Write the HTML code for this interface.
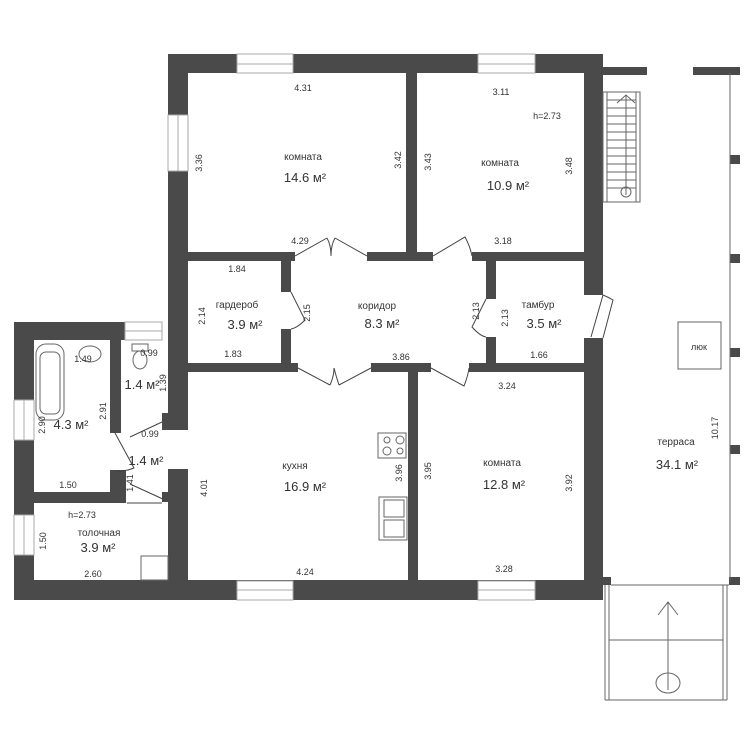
<!DOCTYPE html>
<html><head><meta charset="utf-8"><style>
html,body{margin:0;padding:0;background:#fff;}
svg{display:block;}
text{font-family:"Liberation Sans",sans-serif;fill:#333;}
.s{font-size:9px;}
.l{font-size:10px;}
.a{font-size:13px;}
</style></head><body>
<svg width="750" height="750" viewBox="0 0 750 750" xmlns="http://www.w3.org/2000/svg">
<g fill="#4a4a4a">
<rect x="168" y="54" width="435" height="19"/>
<rect x="168" y="54" width="20" height="376"/>
<rect x="168" y="469" width="20" height="131"/>
<rect x="584" y="54" width="19" height="241"/>
<rect x="584" y="338" width="19" height="247"/>
<rect x="14" y="580" width="589" height="20"/>
<rect x="406" y="73" width="11" height="188"/>
<rect x="188" y="252" width="107" height="9"/>
<rect x="367" y="252" width="66" height="9"/>
<rect x="472" y="252" width="112" height="9"/>
<rect x="281" y="261" width="10" height="31"/>
<rect x="281" y="329" width="10" height="43"/>
<rect x="486" y="261" width="10" height="38"/>
<rect x="486" y="337" width="10" height="35"/>
<rect x="188" y="363" width="110" height="9"/>
<rect x="371" y="363" width="60" height="9"/>
<rect x="469" y="363" width="115" height="9"/>
<rect x="408" y="372" width="10" height="208"/>
<rect x="14" y="322" width="20" height="278"/>
<rect x="14" y="322" width="111" height="18"/>
<rect x="110" y="340" width="11" height="93"/>
<rect x="110" y="470" width="16" height="33"/>
<rect x="33" y="492" width="93" height="11"/>
<rect x="162" y="413" width="6" height="17"/>
<rect x="162" y="492" width="6" height="10"/>
<rect x="603" y="67" width="44" height="8"/>
<rect x="693" y="67" width="47" height="8"/>
<rect x="730" y="155" width="10" height="9"/>
<rect x="730" y="254" width="10" height="9"/>
<rect x="730" y="348" width="10" height="9"/>
<rect x="730" y="445" width="10" height="9"/>
<rect x="603" y="577" width="8" height="8"/>
<rect x="729" y="577" width="11" height="8"/>
</g>
<g fill="#fff" stroke="#aaa" stroke-width="1">
<rect x="237" y="54" width="56" height="19"/>
<rect x="478" y="54" width="57" height="19"/>
<rect x="168" y="115" width="20" height="56"/>
<rect x="237" y="581" width="56" height="19"/>
<rect x="478" y="581" width="57" height="19"/>
<rect x="14" y="400" width="20" height="40"/>
<rect x="14" y="515" width="20" height="40"/>
<rect x="125" y="322" width="37" height="18"/>
</g>
<g stroke="#aaa" stroke-width="1">
<line x1="237" y1="64" x2="293" y2="64"/><line x1="478" y1="64" x2="535" y2="64"/>
<line x1="178" y1="115" x2="178" y2="171"/><line x1="237" y1="590" x2="293" y2="590"/>
<line x1="478" y1="590" x2="535" y2="590"/><line x1="24" y1="400" x2="24" y2="440"/>
<line x1="24" y1="515" x2="24" y2="555"/><line x1="125" y1="331" x2="162" y2="331"/>
</g>
<g fill="none" stroke="#444" stroke-width="1">
<path d="M295 256 L327 238 M367 256 L335 238 M327 238 Q331 245 331 256 M335 238 Q331 245 331 256"/>
<path d="M433 256 L465 237 Q470 246 472 256"/>
<path d="M291 292 L305 320 Q297 328 291 329"/>
<path d="M486 299 L472 327 Q480 336 486 337"/>
<path d="M298 368 L330 385 M371 368 L339 385 M330 385 Q334 376 334 368 M339 385 Q336 376 334 368"/>
<path d="M431 368 L464 386 Q468 376 469 368"/>
<path d="M603 295 L591 337 M603 295 Q608 297 613 300 L603 338"/>
<path d="M115 433 L134 468 Q124 472 115 471"/>
<path d="M130 437 L162 422"/>
<path d="M130 484 L165 500"/>
<path d="M127 503 L162 503"/>
</g>
<g fill="none" stroke="#666" stroke-width="1">
<rect x="36" y="344" width="28" height="76" rx="10"/>
<rect x="40" y="352" width="20" height="62" rx="6"/>
<ellipse cx="90" cy="354" rx="11" ry="8"/>
<rect x="132" y="344" width="16" height="7"/>
<ellipse cx="140" cy="360" rx="7" ry="9"/>
<rect x="378" y="433" width="28" height="25"/>
<circle cx="387" cy="440" r="3"/><circle cx="400" cy="440" r="4"/>
<circle cx="387" cy="451" r="4"/><circle cx="400" cy="451" r="3"/>
<rect x="379" y="497" width="28" height="43"/>
<rect x="384" y="500" width="20" height="17"/><rect x="384" y="520" width="20" height="17"/>
<rect x="141" y="556" width="27" height="24"/>
<rect x="603" y="92" width="37" height="110"/>
<line x1="607" y1="92" x2="607" y2="202"/><line x1="636" y1="92" x2="636" y2="202"/>
<path d="M607 100h29M607 108h29M607 116h29M607 124h29M607 132h29M607 140h29M607 148h29M607 156h29M607 164h29M607 172h29M607 180h29M607 188h29"/>
<line x1="626" y1="195" x2="626" y2="95"/><path d="M617 103 L626 95 L635 103"/>
<circle cx="626" cy="192" r="5"/>
<line x1="730" y1="73" x2="730" y2="580"/>
<line x1="611" y1="585" x2="729" y2="585"/>
<rect x="678" y="322" width="43" height="47"/>
<path d="M605 585 V700 M609 585 V700 M723 585 V700 M727 585 V700 M605 700 H727 M609 640 H723"/>
<line x1="668" y1="690" x2="668" y2="602"/><path d="M658 615 L668 602 L678 615"/>
<ellipse cx="668" cy="683" rx="12" ry="10"/>
</g>
<g text-anchor="middle">
<text class="s" x="303" y="91">4.31</text>
<text class="s" x="501" y="95">3.11</text>
<text class="s" x="547" y="119">h=2.73</text>
<text class="l" x="303" y="160">комната</text>
<text class="a" x="305" y="182">14.6 м²</text>
<text class="l" x="500" y="166">комната</text>
<text class="a" x="508" y="190">10.9 м²</text>
<text class="s" x="300" y="244">4.29</text>
<text class="s" x="503" y="244">3.18</text>
<text class="s" x="237" y="272">1.84</text>
<text class="l" x="237" y="308">гардероб</text>
<text class="a" x="245" y="329">3.9 м²</text>
<text class="s" x="233" y="357">1.83</text>
<text class="l" x="377" y="309">коридор</text>
<text class="a" x="382" y="328">8.3 м²</text>
<text class="s" x="401" y="360">3.86</text>
<text class="l" x="538" y="308">тамбур</text>
<text class="a" x="544" y="328">3.5 м²</text>
<text class="s" x="539" y="358">1.66</text>
<text class="s" x="507" y="389">3.24</text>
<text class="l" x="295" y="469">кухня</text>
<text class="a" x="305" y="491">16.9 м²</text>
<text class="s" x="305" y="575">4.24</text>
<text class="l" x="502" y="466">комната</text>
<text class="a" x="504" y="489">12.8 м²</text>
<text class="s" x="504" y="572">3.28</text>
<text class="l" x="676" y="445">терраса</text>
<text class="a" x="677" y="469">34.1 м²</text>
<text class="s" x="699" y="350">люк</text>
<text class="s" x="83" y="362">1.49</text>
<text class="a" x="71" y="429">4.3 м²</text>
<text class="s" x="68" y="488">1.50</text>
<text class="s" x="149" y="356">0.99</text>
<text class="a" x="142" y="389">1.4 м²</text>
<text class="s" x="150" y="437">0.99</text>
<text class="a" x="146" y="465">1.4 м²</text>
<text class="s" x="82" y="518">h=2.73</text>
<text class="l" x="99" y="536">толочная</text>
<text class="a" x="98" y="552">3.9 м²</text>
<text class="s" x="93" y="577">2.60</text>
</g>
<g text-anchor="middle">
<text transform="translate(202,163) rotate(-90)" class="s">3.36</text>
<text transform="translate(401,160) rotate(-90)" class="s">3.42</text>
<text transform="translate(431,162) rotate(-90)" class="s">3.43</text>
<text transform="translate(572,166) rotate(-90)" class="s">3.48</text>
<text transform="translate(205,316) rotate(-90)" class="s">2.14</text>
<text transform="translate(310,313) rotate(-90)" class="s">2.15</text>
<text transform="translate(479,311) rotate(-90)" class="s">2.13</text>
<text transform="translate(508,318) rotate(-90)" class="s">2.13</text>
<text transform="translate(207,488) rotate(-90)" class="s">4.01</text>
<text transform="translate(402,473) rotate(-90)" class="s">3.96</text>
<text transform="translate(431,471) rotate(-90)" class="s">3.95</text>
<text transform="translate(572,483) rotate(-90)" class="s">3.92</text>
<text transform="translate(718,428) rotate(-90)" class="s">10.17</text>
<text transform="translate(106,411) rotate(-90)" class="s">2.91</text>
<text transform="translate(45,425) rotate(-90)" class="s">2.90</text>
<text transform="translate(166,383) rotate(-90)" class="s">1.39</text>
<text transform="translate(133,483) rotate(-90)" class="s">1.41</text>
<text transform="translate(46,541) rotate(-90)" class="s">1.50</text>
</g>
</svg>
</body></html>
